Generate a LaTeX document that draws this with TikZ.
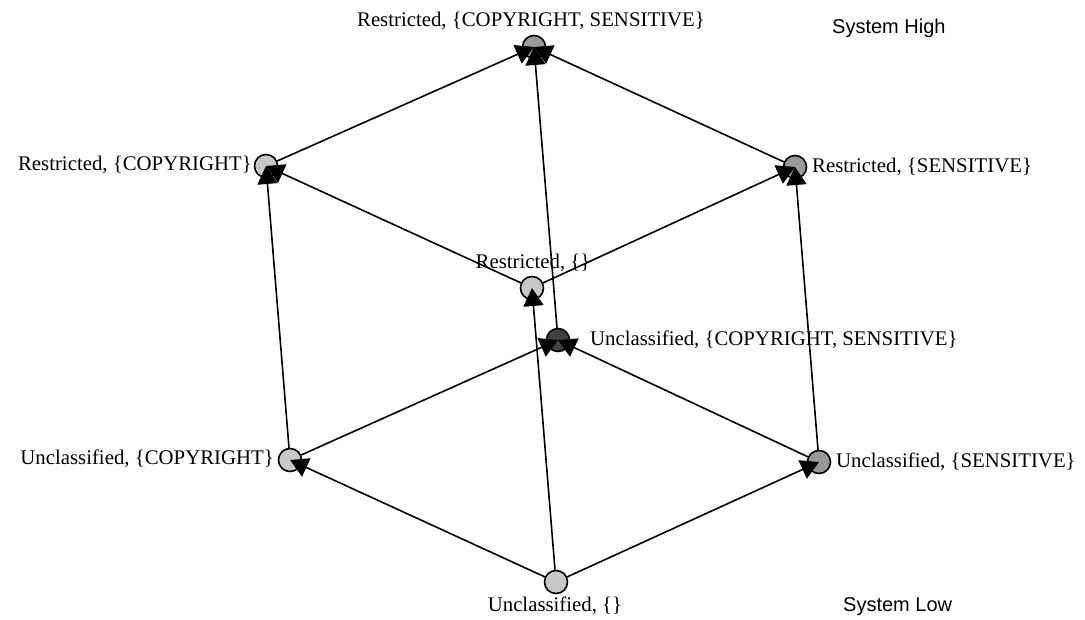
\documentclass[tikz,border=0pt]{standalone}
\usepackage{fontspec}
\setmainfont{Liberation Serif}
\newfontfamily\sysfont{Liberation Sans}
\usetikzlibrary{arrows.meta}
\definecolor{lightg}{HTML}{C8C8C8}
\definecolor{midg}{HTML}{999999}
\definecolor{darkg}{HTML}{404040}
\tikzset{
  vtx/.style={circle, draw=black, line width=1.6pt, minimum size=23pt, inner sep=0pt},
  lbl/.style={inner sep=0pt, font=\fontsize{20.8}{24}\selectfont},
  sys/.style={inner sep=0pt, font=\sysfont\fontsize{20}{23}\selectfont},
  edge/.style={line width=1.6pt, -{Triangle[length=18pt,width=20pt]}}
}
\begin{document}
\begin{tikzpicture}[x=1pt,y=1pt]
\useasboundingbox (0,0) rectangle (1085,619);
% vertices
\node[vtx, fill=lightg] (B)   at (556,37) {};
\node[vtx, fill=lightg] (UC)  at (290,159) {};
\node[vtx, fill=midg]   (US)  at (819,157) {};
\node[vtx, fill=lightg] (R0)  at (532,331) {};
\node[vtx, fill=darkg]  (UCS) at (558,279) {};
\node[vtx, fill=lightg] (RC)  at (266,453) {};
\node[vtx, fill=midg]   (RS)  at (795,452) {};
\node[vtx, fill=midg]   (T)   at (534,572) {};
% edges
\draw[edge] (B) -- (UC.center);
\draw[edge] (B) -- (US.center);
\draw[edge] (B) -- (R0.center);
\draw[edge] (UC) -- (RC.center);
\draw[edge] (UC) -- (UCS.center);
\draw[edge] (US) -- (UCS.center);
\draw[edge] (US) -- (RS.center);
\draw[edge] (R0) -- (RC.center);
\draw[edge] (R0) -- (RS.center);
\draw[edge] (RC) -- (T.center);
\draw[edge] (RS) -- (T.center);
\draw[edge] (UCS) -- (T.center);
% labels
\node[lbl] (lT) at (531,598) {Restricted, \{COPYRIGHT, SENSITIVE\}};
\node[lbl, anchor=east] (lRC) at (252,454) {Restricted, \{COPYRIGHT\}};
\node[lbl, anchor=west] (lRS) at (812,452) {Restricted, \{SENSITIVE\}};
\node[lbl] (lR0) at (533,356) {Restricted, \{\}};
\node[lbl, anchor=west] (lUCS) at (590,279) {Unclassified, \{COPYRIGHT, SENSITIVE\}};
\node[lbl, anchor=east] (lUC) at (274,160) {Unclassified, \{COPYRIGHT\}};
\node[lbl, anchor=west] (lUS) at (836,157) {Unclassified, \{SENSITIVE\}};
\node[lbl] (lB) at (555,13) {Unclassified, \{\}};
\node[sys, anchor=west] (hi) at (832,591) {System High};
\node[sys, anchor=west] (lo) at (843,12) {System Low};
\end{tikzpicture}
\end{document}
